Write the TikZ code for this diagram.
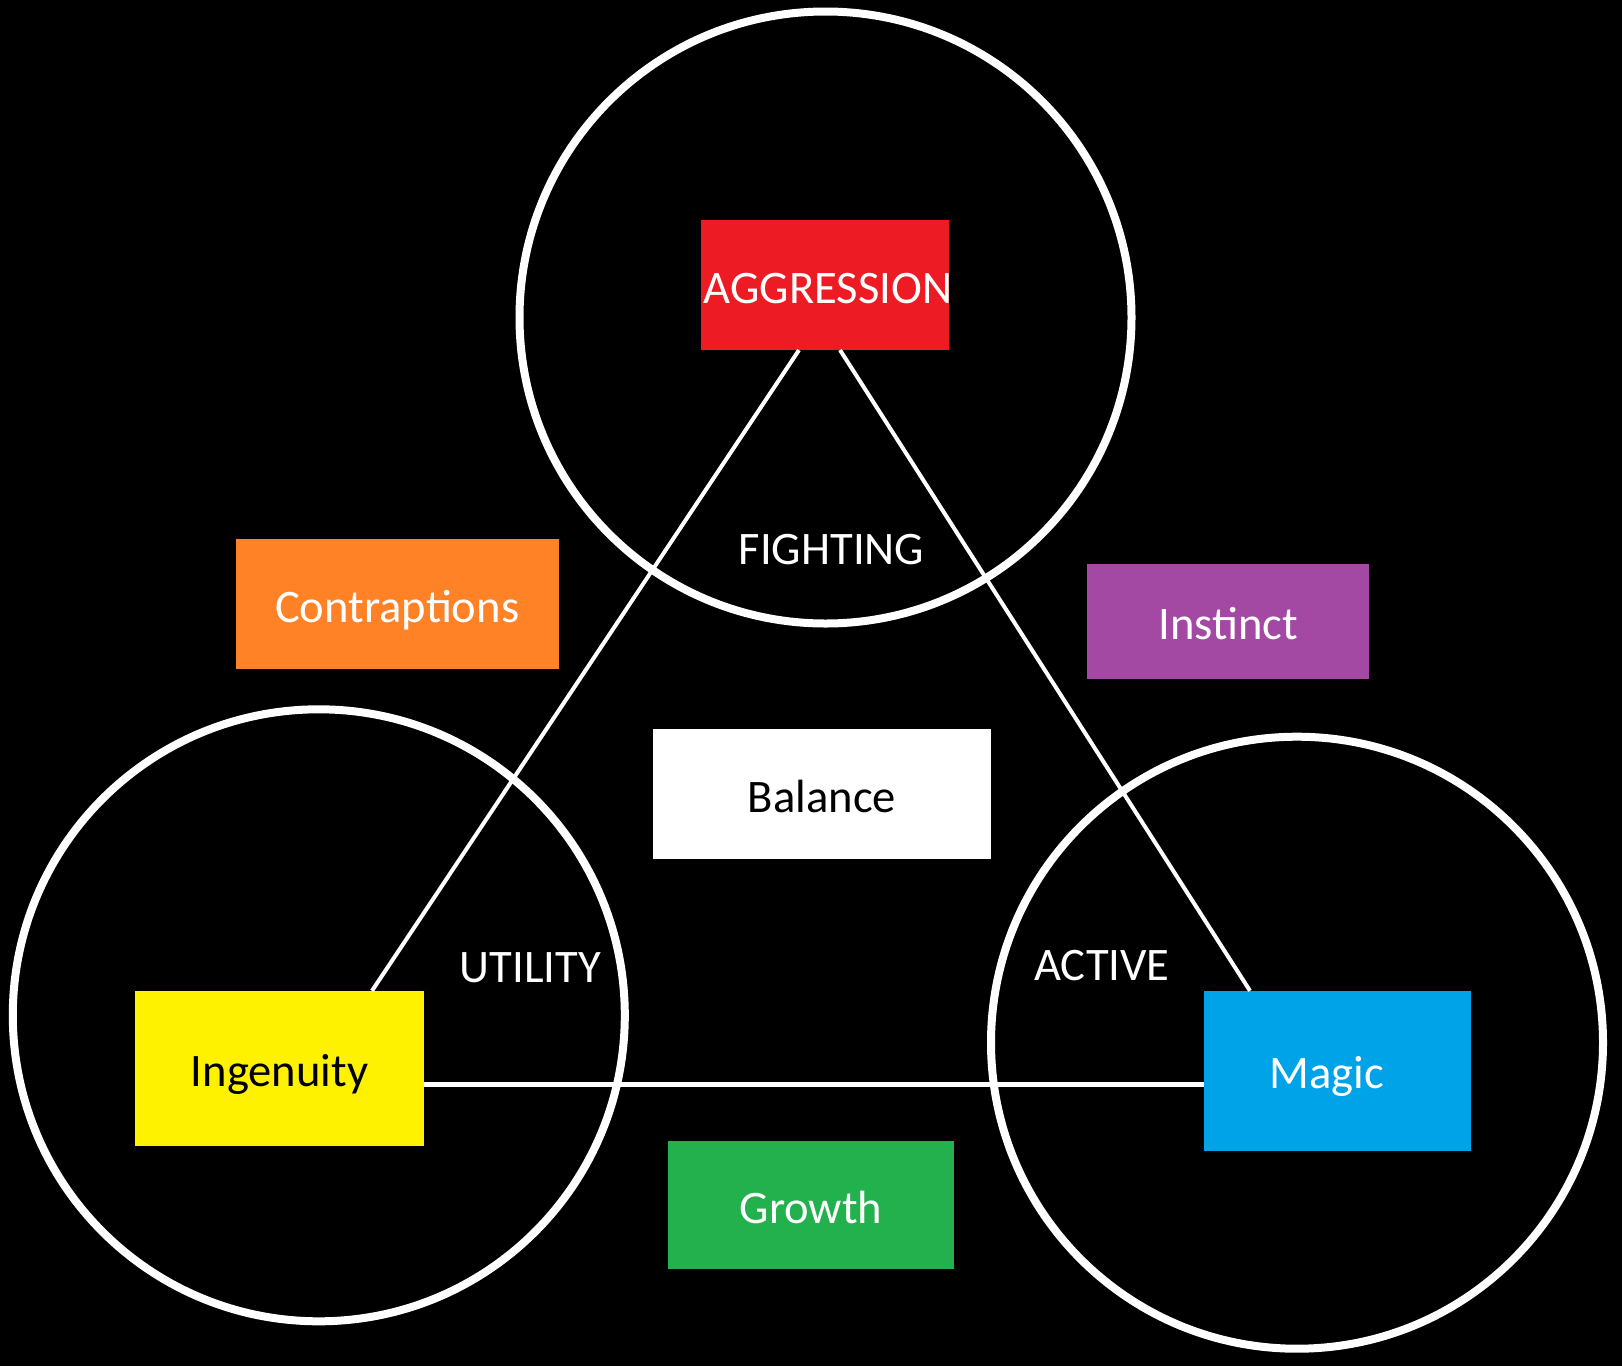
\documentclass[tikz,border=0pt]{standalone}
\usepackage{fontspec}
\setmainfont{Carlito}
\definecolor{aggrred}{HTML}{ED1C24}
\definecolor{contraorange}{HTML}{FF8227}
\definecolor{instpurple}{HTML}{A349A4}
\definecolor{ingyellow}{HTML}{FFF200}
\definecolor{magicblue}{HTML}{00A2E8}
\definecolor{growgreen}{HTML}{22B14C}
\tikzset{
  box/.style={rectangle, inner sep=0pt, outer sep=0pt, text height=36pt, text depth=0pt},
  word/.style={text=white, inner sep=0pt, text height=36pt, text depth=0pt},
}
\begin{document}
\begin{tikzpicture}[x=1pt, y=-1pt, font=\fontsize{46.6}{56}\selectfont]
\def\topcircle{(825.5,317.5) circle (306pt)}
\def\leftcircle{(318.8,1015.3) circle (306pt)}
\def\rightcircle{(1297,1042.7) circle (306pt)}

\fill[black] (0,0) rectangle (1622,1366);
\useasboundingbox (0,0) rectangle (1622,1366);

\draw[white, line width=8pt] \topcircle;
\draw[white, line width=8pt] \leftcircle;
\draw[white, line width=8pt] \rightcircle;

\node[box, fill=aggrred, text=white, minimum width=248pt, minimum height=130pt] (aggression) at (825,285) {AGGRESSION\hspace*{-6pt}};
\node[box, fill=contraorange, text=white, minimum width=323pt, minimum height=130pt] (contraptions) at (397.2,604.1) {Contraptions};
\node[box, fill=instpurple, text=white, minimum width=282pt, minimum height=115pt] (instinct) at (1228.4,621.2) {Instinct};
\node[box, fill=white, text=black, minimum width=338pt, minimum height=130pt] (balance) at (821.9,794.4) {Balance};
\node[box, fill=ingyellow, text=black, minimum width=289pt, minimum height=155pt] (ingenuity) at (279.5,1068.3) {Ingenuity};
\node[box, fill=magicblue, text=white, minimum width=267pt, minimum height=160pt] (magic) at (1337.5,1070.8) {Magic\hspace*{22pt}};
\node[box, fill=growgreen, text=white, minimum width=285.5pt, minimum height=128pt] (growth) at (811,1205) {Growth};

\node[word] (fighting) at (831.5,546.7) {FIGHTING};
\node[word] (utility) at (530.5,964.6) {UTILITY};
\node[word] (active) at (1102,962.5) {ACTIVE};

% triangle between the three corners
\draw[white, line width=4pt] ([xshift=-26pt]aggression.south) -- ([xshift=92.5pt]ingenuity.north);
\draw[white, line width=4pt] ([xshift=15pt]aggression.south) -- ([xshift=-87.5pt]magic.north);
\coordinate (base) at ([yshift=-16pt]ingenuity.east);
\draw[white, line width=5pt] (base) -- (base -| magic.west);
\end{tikzpicture}
\end{document}
